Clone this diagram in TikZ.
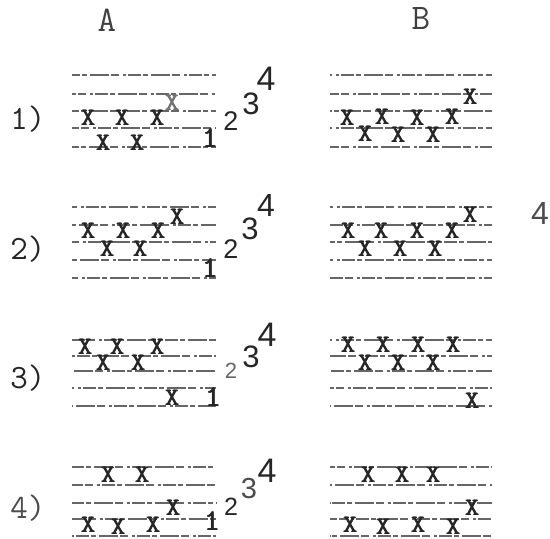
\documentclass[tikz,border=0pt]{standalone}
\usepackage{fontspec}
\newfontfamily\tw{Latin Modern Mono}
\newfontfamily\hw{Liberation Sans}
\newcommand\tbold[1]{\rlap{#1}\kern0.7pt\rlap{#1}\raisebox{0.4pt}{#1}}
\begin{document}
\begin{tikzpicture}[x=1pt,y=-1pt,
  staffline/.style={line width=1.3pt, black!60, dash pattern=on 13pt off 2pt on 5pt off 3pt on 19pt off 2pt on 8pt off 4pt on 3pt off 2pt},
  xm/.style={font=\tw\fontsize{25}{25}\selectfont, inner sep=0pt, text=black!85, xscale=1.1},
  xs/.style={xm, text=black!55},
  lab/.style={font=\tw\fontsize{34}{34}\selectfont, inner sep=0pt, text=black!85},
  col/.style={font=\tw\fontsize{36}{36}\selectfont, inner sep=0pt, text=black!75},
  one/.style={font=\tw\fontsize{30}{30}\selectfont, inner sep=0pt, text=black!85},
  hn/.style={font=\hw\fontsize{#1}{#1}\selectfont, inner sep=0pt, text=black!85},
]
\useasboundingbox (0,0) rectangle (550,539);

% column headers
\node[col] (hA) at (107,20) {A};
\node[col] (hB) at (421,18) {B};

% row labels
\node[lab] (r1) at (28,119) {1)};
\node[lab] (r2) at (28,249) {2)};
\node[lab] (r3) at (28,378) {3)};
\node[lab, text=black!70] (r4) at (28,508) {4)};

% staff lines
\foreach \a/\b/\c/\d/\e in {75/94/111/128/147, 207/225/242/260/278, 340/356/371/388/406, 467/485/503/519/536}{
  \foreach \yy in {\a,\b,\c,\d,\e}{
    \draw[staffline, dash phase=\yy*1.7pt] (72,\yy) -- (216,\yy);
    \draw[staffline, dash phase=\yy*2.3pt] (330,\yy) -- (492,\yy);
  }
}

% ---- row 1
\foreach \x/\y [count=\i] in {88/118, 122/118, 157/118, 103/143, 137/143}
  \node[xm] (x1a\i) at (\x,\y) {\tbold{X}};
\node[xs] (x1a6) at (172,103) {\tbold{X}};
\foreach \x/\y [count=\i] in {347/118, 382/117, 417/118, 452/117, 365/134, 398/135, 433/135, 470/97}
  \node[xm] (x1b\i) at (\x,\y) {\tbold{X}};
\node[one] (n1a1) at (210,138) {\tbold{1}};
\node[hn=27] (n1a2) at (231,121) {2};
\node[hn=31] (n1a3) at (251,104) {3};
\node[hn=34] (n1a4) at (266,79) {4};

% ---- row 2
\foreach \x/\y [count=\i] in {88/231, 123/231, 158/231, 177/217, 107/249, 140/249}
  \node[xm] (x2a\i) at (\x,\y) {\tbold{X}};
\foreach \x/\y [count=\i] in {348/231, 381/231, 417/231, 452/231, 365/249, 400/249, 435/249, 470/215}
  \node[xm] (x2b\i) at (\x,\y) {\tbold{X}};
\node[one] (n2a1) at (210,268) {\tbold{1}};
\node[hn=27] (n2a2) at (231,249) {2};
\node[hn=31] (n2a3) at (250,229) {3};
\node[hn=32] (n2a4) at (266,205) {4};
\node[hn=32, text=black!70] (n2b4) at (540,213) {4};

% ---- row 3
\foreach \x/\y [count=\i] in {85/347, 117/347, 157/347, 103/363, 138/363, 172/398}
  \node[xm] (x3a\i) at (\x,\y) {\tbold{X}};
\foreach \x/\y [count=\i] in {348/345, 383/345, 418/345, 453/345, 365/363, 398/363, 433/363, 472/401}
  \node[xm] (x3b\i) at (\x,\y) {\tbold{X}};
\node[one] (n3a1) at (213,397) {\tbold{1}};
\node[hn=22, text=black!60] (n3a2) at (231,371) {2};
\node[hn=31] (n3a3) at (251,357) {3};
\node[hn=34] (n3a4) at (267,335) {4};

% ---- row 4
\foreach \x/\y [count=\i] in {108/475, 142/475, 173/508, 88/525, 118/527, 153/525}
  \node[xm] (x4a\i) at (\x,\y) {\tbold{X}};
\foreach \x/\y [count=\i] in {368/475, 402/475, 433/475, 472/508, 350/525, 383/527, 418/525, 453/527}
  \node[xm] (x4b\i) at (\x,\y) {\tbold{X}};
\node[one] (n4a1) at (212,521) {\tbold{1}};
\node[hn=25] (n4a2) at (231,507) {2};
\node[hn=29, text=black!70] (n4a3) at (249,489) {3};
\node[hn=34] (n4a4) at (267,471) {4};
\end{tikzpicture}
\end{document}
